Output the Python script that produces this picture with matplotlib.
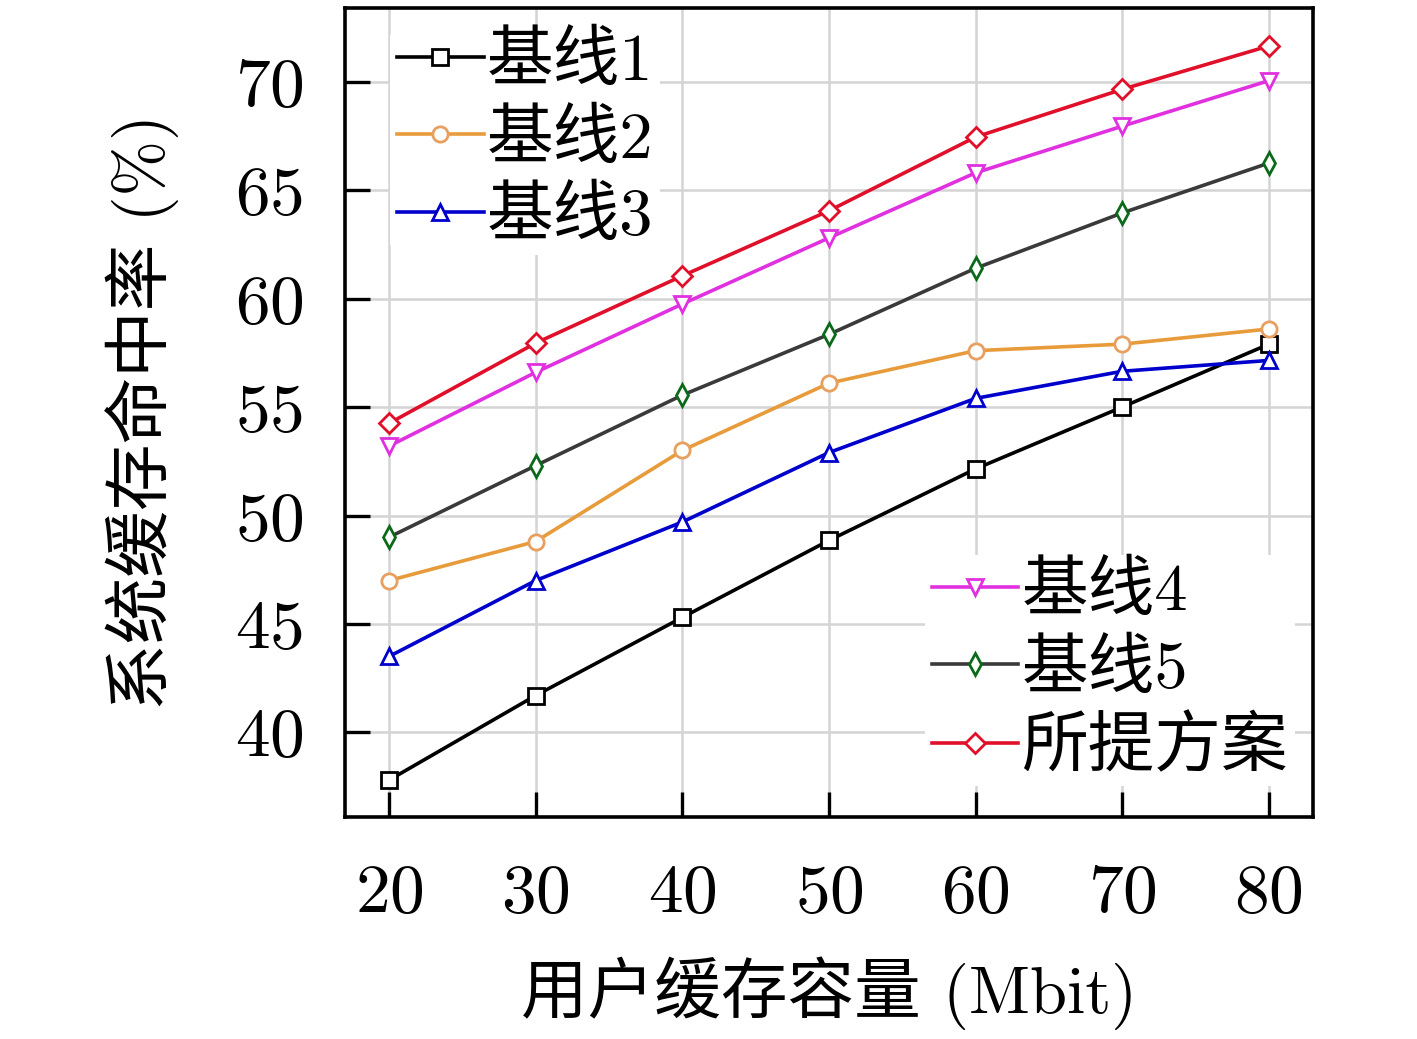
import matplotlib
matplotlib.use('Agg')
import matplotlib.pyplot as plt

plt.rcParams['font.family'] = ['cmr10', 'Noto Sans CJK SC']
plt.rcParams['axes.formatter.use_mathtext'] = True
plt.rcParams['mathtext.fontset'] = 'cm'

x = [20, 30, 40, 50, 60, 70, 80]
base1 = [37.8, 41.7, 45.3, 48.85, 52.15, 55.0, 57.9]
base2 = [47.0, 48.8, 53.0, 56.1, 57.6, 57.9, 58.6]
base3 = [43.5, 47.0, 49.7, 52.9, 55.4, 56.65, 57.15]
base4 = [53.2, 56.6, 59.75, 62.8, 65.8, 67.95, 70.05]
base5 = [49.0, 52.3, 55.55, 58.35, 61.4, 63.95, 66.25]
proposed = [54.25, 57.95, 61.05, 64.05, 67.45, 69.65, 71.65]

fig = plt.figure(figsize=(14.17, 10.39), dpi=100)
ax = fig.add_axes([0.2435, 0.2137, 0.683, 0.7786])

kw = dict(linewidth=2.6, markersize=11, markerfacecolor='white', markeredgewidth=2.0)
l1, = ax.plot(x, base1, '-s', color='black', label='基线1', **kw)
l2, = ax.plot(x, base2, '-o', color='#E89B3A', markeredgecolor='#E8A060', label='基线2', **kw)
l3, = ax.plot(x, base3, '-^', color='#0000CC', label='基线3', **kw)
l4, = ax.plot(x, base4, '-v', color='#E030E0', label='基线4', **kw)
l5, = ax.plot(x, base5, '-d', color='#3A3A3A', markeredgecolor='#0A6A1A', label='基线5', **kw)
l6, = ax.plot(x, proposed, '-D', color='#E0102A', label='所提方案', linewidth=2.6,
              markersize=10, markerfacecolor='white', markeredgewidth=2.0)

ax.set_xlim(17, 83)
ax.set_ylim(36.1, 73.4)
ax.set_xticks(x)
ax.set_yticks([40, 45, 50, 55, 60, 65, 70])
ax.grid(True, color='#d4d4d4', linewidth=1.8)
ax.set_axisbelow(True)
ax.tick_params(direction='in', length=18, width=2.4, labelsize=50)
ax.tick_params(axis='x', pad=34)
ax.tick_params(axis='y', pad=30)
for s in ax.spines.values():
    s.set_linewidth(2.6)

ax.set_xlabel('用户缓存容量 (Mbit)', fontsize=48, labelpad=22)
ax.set_ylabel('系统缓存命中率 (%)', fontsize=48, labelpad=40)

leg_kw = dict(fontsize=48, frameon=True, facecolor='white', edgecolor='none', framealpha=1,
              handlelength=1.3, handletextpad=0.05, labelspacing=0.24, borderpad=0.1,
              borderaxespad=0.2)
leg1 = ax.legend(handles=[l1, l2, l3], loc='upper left', bbox_to_anchor=(0.033, 0.995), **leg_kw)
ax.add_artist(leg1)
ax.legend(handles=[l4, l5, l6], loc='lower right', bbox_to_anchor=(0.995, 0.022), **leg_kw)

fig.savefig('out.png', dpi=100)
